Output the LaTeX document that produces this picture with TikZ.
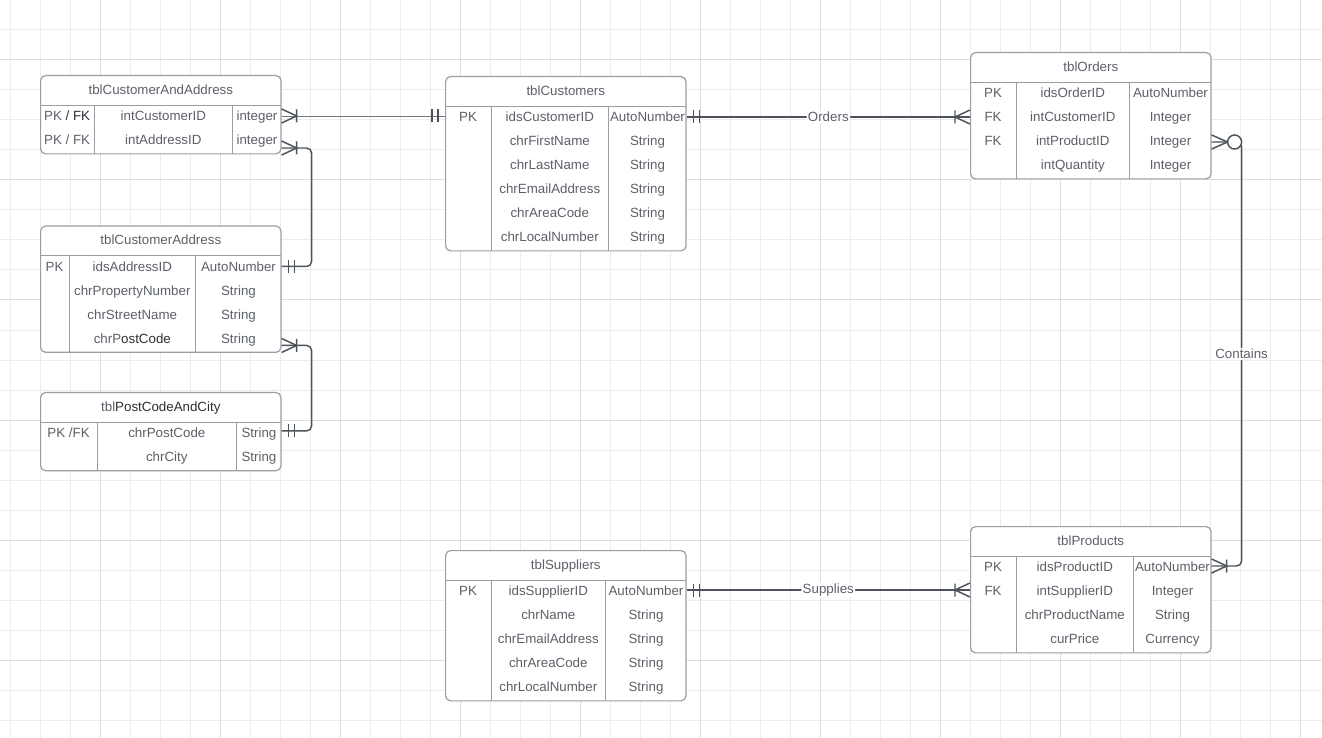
\documentclass[tikz,border=0pt]{standalone}
\usepackage{fontspec}
\setmainfont{Liberation Sans}
\usepackage{array}
\usepackage{colortbl}
\usetikzlibrary{positioning, calc}

\definecolor{tblline}{RGB}{154,158,164}
\definecolor{tbltext}{RGB}{92,96,104}
\definecolor{tbldark}{RGB}{45,47,52}
\definecolor{relline}{RGB}{78,83,91}
\definecolor{gridminor}{RGB}{236,236,238}
\definecolor{gridmajor}{RGB}{221,221,224}

\newlength\pxu
\setlength\pxu{0.75pt}
\newcolumntype{C}[1]{>{\centering\arraybackslash\rule[-6.9pt]{0pt}{18pt}}p{#1\pxu}}
\setlength\tabcolsep{0pt}
\setlength\arrayrulewidth{0.9pt}
\arrayrulecolor{tblline}
\newcommand\hdr[1]{\multicolumn{3}{c}{\rule[-7.7pt]{0pt}{21.8pt}#1}\\\hline}

\begin{document}
\begin{tikzpicture}[x=0.75pt, y=-0.75pt,
    entity/.style={draw=tblline, line width=0.9pt, rounded corners=3.75pt, fill=white, inner sep=0pt, anchor=north west, text=tbltext, font=\fontsize{10}{12}\selectfont},
    rel/.style={draw=relline, line width=1.1pt, rounded corners=3.75pt},
    lightrel/.style={rel, draw=relline!80, line width=0.6pt},
    lbl/.style={fill=white, text=tbltext, inner sep=1pt, font=\fontsize{10}{12}\selectfont},
    tip/.style={relline, line width=1.1pt},
    pics/onlyone/.style={code={\draw (7,-6.5) -- (7,6.5) (13,-6.5) -- (13,6.5);}},
    pics/many/.style={code={\draw (0,-7) -- (15,0) -- (0,7) (15,-6.5) -- (15,6.5);}},
    pics/zeromany/.style={code={\draw (0,-7) -- (16,0) -- (0,7); \draw[fill=white] (23,0) circle[radius=7];}}
]
\useasboundingbox (0,0) rectangle (1322,738);
\fill[white] (0,0) rectangle (1322,738);

% background grid
\foreach \gx in {10,40,...,1320} \draw[gridminor, line width=0.75pt] (\gx,0) -- (\gx,738);
\foreach \gy in {0,30,...,720} \draw[gridminor, line width=0.75pt] (0,\gy) -- (1322,\gy);
\foreach \gx in {100,220,...,1300} \draw[gridmajor, line width=0.75pt] (\gx,0) -- (\gx,738);
\foreach \gy in {60,180,...,660} \draw[gridmajor, line width=0.75pt] (0,\gy) -- (1322,\gy);

% left column
\node[entity] (caa) at (40,75) {\begin{tabular}{C{53}|C{137}|C{48}}
\hdr{tblCustomerAndAddress}
PK {\color{tbldark}/ FK} & intCustomerID & integer\\
PK / FK & intAddressID & integer
\end{tabular}};

\node[entity, below=53.25pt of caa] (caddr) {\begin{tabular}{C{28}|C{125}|C{85}}
\hdr{tblCustomerAddress}
PK & idsAddressID & AutoNumber\\
 & chrPropertyNumber & String\\
 & chrStreetName & String\\
 & chrP{\color{tbldark}ostCode} & String
\end{tabular}};

\node[entity, below=29.25pt of caddr] (pcc) {\begin{tabular}{C{56}|C{138}|C{44}}
\hdr{tbl{\color{tbldark}PostCodeAndCity}}
PK /FK & chrPostCode & String\\
 & chrCity & String
\end{tabular}};

% middle column
\node[entity] (custs) at (445,76) {\begin{tabular}{C{45}|C{116}|C{77}}
\hdr{tblCustomers}
PK & idsCustomerID & AutoNumber\\
 & chrFirstName & String\\
 & chrLastName & String\\
 & chrEmailAddress & String\\
 & chrAreaCode & String\\
 & chrLocalNumber & String
\end{tabular}};

\node[entity] (supps) at (445,550) {\begin{tabular}{C{45}|C{113}|C{80}}
\hdr{tblSuppliers}
PK & idsSupplierID & AutoNumber\\
 & chrName & String\\
 & chrEmailAddress & String\\
 & chrAreaCode & String\\
 & chrLocalNumber & String
\end{tabular}};

% right column
\node[entity] (orders) at (970,52) {\begin{tabular}{C{45}|C{112}|C{81}}
\hdr{tblOrders}
PK & idsOrderID & AutoNumber\\
FK & intCustomerID & Integer\\
FK & intProductID & Integer\\
 & intQuantity & Integer
\end{tabular}};

\node[entity] (prods) at (970,526) {\begin{tabular}{C{45}|C{116}|C{77}}
\hdr{tblProducts}
PK & idsProductID & AutoNumber\\
FK & intSupplierID & Integer\\
 & chrProductName & String\\
 & curPrice & Currency
\end{tabular}};

% row ends
\coordinate (caaR1) at ($(caa.north east)+(0,41)$);
\coordinate (caaR2) at ($(caa.north east)+(0,73)$);
\coordinate (custsL1) at (caaR1 -| custs.west);
\coordinate (caddrR1) at ($(caddr.north east)+(0,41)$);
\coordinate (caddrR4) at ($(caddr.north east)+(0,120)$);
\coordinate (pccR1) at ($(pcc.north east)+(0,39)$);
\coordinate (custsR1) at ($(custs.north east)+(0,41)$);
\coordinate (ordersL2) at ($(orders.north west)+(0,65)$);
\coordinate (ordersR3) at ($(orders.north east)+(0,90)$);
\coordinate (prodsR1) at ($(prods.north east)+(0,40)$);
\coordinate (prodsL2) at ($(prods.north west)+(0,64)$);
\coordinate (suppsR1) at ($(supps.north east)+(0,40)$);

% relationships
\draw[lightrel] (caaR1) -- (custsL1);
\draw[rel] (caaR2) -- ++(30,0) |- (caddrR1);
\draw[rel] (caddrR4) -- ++(30,0) |- (pccR1);
\draw[rel] (custsR1) -- node[lbl] {Orders} (ordersL2);
\draw[rel] (ordersR3) -- ++(30,0) |- node[lbl, pos=0.25] {Contains} (prodsR1);
\draw[rel] (suppsR1) -- node[lbl] {Supplies} (prodsL2);

\pic[tip] at (caaR1) {many};
\pic[tip, rotate=180] at (custsL1) {onlyone};
\pic[tip] at (caaR2) {many};
\pic[tip] at (caddrR1) {onlyone};
\pic[tip] at (caddrR4) {many};
\pic[tip] at (pccR1) {onlyone};
\pic[tip] at (custsR1) {onlyone};
\pic[tip, rotate=180] at (ordersL2) {many};
\pic[tip] at (ordersR3) {zeromany};
\pic[tip] at (prodsR1) {many};
\pic[tip] at (suppsR1) {onlyone};
\pic[tip, rotate=180] at (prodsL2) {many};
\end{tikzpicture}
\end{document}
